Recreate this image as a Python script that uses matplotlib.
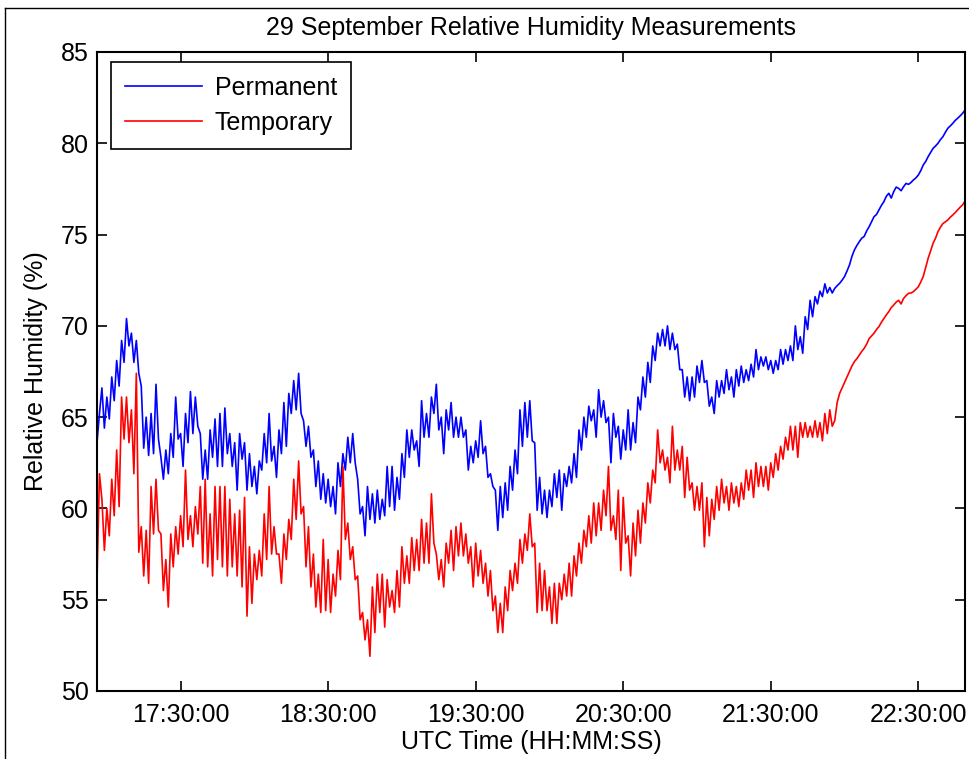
import numpy as np
import pandas as pd
import matplotlib
matplotlib.use("Agg")
import matplotlib.pyplot as plt
import matplotlib.dates as mdates
from matplotlib.lines import Line2D

# readings every minute starting 16:56 UTC, 29 September
start_time = "2015-09-29 16:56:00"

perm_rh = [
  # 16:56 - 17:55
  63.6, 65.2, 66.6, 64.4, 66.1, 64.9, 67.2, 65.9, 68.1, 66.7,
  69.2, 68.0, 70.4, 68.9, 69.6, 68.0, 69.2, 67.4, 66.7, 63.3,
  65.0, 62.9, 65.2, 63.0, 66.8, 63.8, 62.8, 61.6, 63.2, 61.9,
  64.1, 62.8, 66.1, 63.8, 64.1, 62.3, 65.2, 63.6, 66.4, 64.1,
  66.1, 64.5, 64.1, 61.6, 63.2, 61.6, 64.3, 62.8, 64.9, 62.3,
  65.2, 62.3, 65.5, 63.0, 64.1, 62.3, 63.6, 61.0, 64.1, 62.7,
  # 17:56 - 18:55
  63.6, 61.0, 63.0, 61.2, 62.3, 60.8, 62.6, 62.1, 64.1, 62.5,
  65.2, 62.6, 63.4, 61.7, 64.3, 63.0, 65.8, 63.4, 66.3, 65.2,
  67.0, 65.4, 67.4, 65.2, 64.8, 63.4, 64.5, 62.8, 63.2, 61.2,
  62.6, 60.5, 61.9, 60.3, 61.6, 60.1, 61.2, 59.7, 62.5, 61.2,
  63.0, 62.1, 63.9, 62.5, 64.1, 62.5, 61.6, 59.7, 60.1, 58.5,
  61.2, 59.4, 60.8, 59.2, 61.0, 59.4, 60.5, 59.6, 62.3, 60.1,
  # 18:56 - 19:55
  62.3, 59.9, 61.7, 60.5, 63.0, 61.7, 64.3, 62.8, 64.3, 63.2,
  63.7, 62.3, 65.9, 63.9, 65.2, 63.9, 66.1, 65.2, 66.8, 64.3,
  65.0, 63.0, 65.4, 64.3, 65.8, 63.9, 65.0, 63.9, 65.0, 63.9,
  64.3, 62.1, 63.4, 62.5, 63.7, 62.8, 64.8, 63.0, 63.4, 61.7,
  61.9, 61.2, 61.0, 58.8, 61.2, 59.5, 61.4, 59.9, 62.3, 61.0,
  63.2, 61.9, 65.4, 63.4, 65.8, 63.9, 65.9, 63.7, 63.6, 59.9,
  # 19:56 - 20:55
  61.7, 59.7, 61.0, 59.5, 61.0, 60.1, 61.9, 60.6, 62.1, 59.9,
  61.9, 61.2, 62.3, 61.4, 63.0, 61.7, 64.3, 63.2, 65.0, 63.9,
  65.6, 64.8, 65.4, 63.9, 66.5, 65.0, 65.9, 64.7, 65.0, 62.5,
  65.2, 63.9, 64.5, 62.7, 64.3, 63.2, 65.4, 63.2, 64.7, 63.6,
  66.1, 65.4, 67.2, 66.1, 68.0, 66.9, 68.9, 68.1, 69.6, 68.9,
  69.8, 68.9, 70.0, 68.7, 69.6, 68.7, 69.0, 67.6, 67.6, 66.1,
  # 20:56 - 21:55
  67.2, 65.9, 67.2, 66.1, 67.8, 66.9, 68.1, 66.9, 67.0, 65.6,
  66.1, 65.2, 67.0, 66.1, 67.0, 66.3, 67.6, 66.5, 67.2, 66.1,
  67.6, 66.7, 67.8, 66.9, 67.6, 67.0, 67.9, 67.2, 68.7, 67.6,
  68.3, 67.8, 68.3, 67.6, 68.1, 67.4, 68.1, 67.6, 68.7, 67.9,
  68.7, 68.1, 68.9, 68.1, 70.0, 68.7, 69.4, 68.5, 70.5, 69.8,
  71.4, 70.5, 71.6, 71.2, 71.9, 71.6, 72.3, 71.8, 72.1, 71.8,
  # 21:56 - 22:49
  72.05, 72.2, 72.33, 72.5, 72.7, 73.0, 73.33, 73.8, 74.15, 74.4,
  74.61, 74.8, 74.9, 75.2, 75.43, 75.7, 75.98, 76.1, 76.35, 76.6,
  76.8, 77.1, 77.26, 77.0, 77.35, 77.6, 77.53, 77.4, 77.62, 77.8,
  77.75, 77.85, 77.99, 78.1, 78.26, 78.5, 78.81, 79.0, 79.27, 79.5,
  79.72, 79.85, 80.0, 80.2, 80.36, 80.6, 80.82, 80.95, 81.09, 81.25,
  81.37, 81.5, 81.64, 81.82,
]

temp_rh = [
  # 16:56 - 17:55
  56.0, 61.9, 60.5, 57.7, 60.0, 58.5, 61.6, 59.6, 63.2, 60.1,
  66.1, 63.8, 66.1, 63.6, 65.4, 61.9, 67.4, 57.6, 59.0, 56.3,
  58.8, 55.9, 61.2, 58.6, 61.6, 58.8, 58.6, 55.5, 57.2, 54.6,
  58.6, 56.8, 59.0, 57.5, 59.6, 57.9, 62.1, 58.3, 59.6, 57.9,
  60.1, 58.6, 61.2, 57.0, 61.6, 56.8, 59.7, 56.3, 61.2, 57.2,
  61.2, 56.8, 61.2, 56.3, 60.5, 56.8, 59.7, 56.3, 59.9, 55.7,
  # 17:56 - 18:55
  60.6, 54.1, 57.9, 54.8, 57.5, 56.1, 57.7, 56.3, 59.7, 57.2,
  61.2, 57.5, 59.0, 57.5, 57.5, 55.9, 58.6, 57.2, 59.4, 58.3,
  61.6, 59.4, 62.6, 59.7, 60.1, 56.8, 59.0, 55.7, 57.5, 54.6,
  56.4, 54.3, 58.3, 54.4, 57.2, 54.3, 56.4, 55.2, 57.7, 56.1,
  62.3, 58.3, 59.2, 57.2, 57.9, 56.1, 56.3, 53.9, 54.3, 52.8,
  53.9, 51.9, 55.7, 53.2, 56.4, 54.3, 56.4, 53.5, 56.1, 54.6,
  # 18:56 - 19:55
  55.5, 54.3, 56.6, 54.6, 57.9, 55.9, 57.4, 55.9, 58.4, 56.6,
  58.3, 56.6, 59.4, 57.0, 59.2, 57.0, 60.8, 58.1, 57.5, 56.1,
  57.2, 55.7, 58.1, 57.0, 58.8, 56.6, 59.0, 57.4, 59.2, 57.4,
  58.6, 57.0, 57.9, 55.7, 58.1, 56.3, 57.7, 55.9, 57.0, 55.2,
  56.6, 54.4, 55.2, 53.2, 54.8, 53.2, 55.7, 54.4, 56.6, 55.5,
  57.0, 55.9, 58.3, 57.0, 58.6, 57.7, 59.7, 57.9, 58.1, 54.3,
  # 19:56 - 20:55
  57.0, 54.4, 56.6, 54.4, 55.7, 53.7, 55.9, 53.7, 55.9, 55.0,
  56.4, 55.2, 57.0, 55.2, 57.4, 56.3, 58.1, 57.0, 58.8, 57.9,
  59.6, 58.1, 60.3, 58.5, 60.3, 58.8, 61.0, 59.6, 62.3, 58.8,
  59.6, 58.3, 61.0, 56.6, 60.6, 58.1, 58.5, 56.3, 59.2, 57.4,
  59.9, 58.1, 60.3, 59.2, 61.4, 60.3, 62.1, 61.4, 64.3, 62.5,
  63.2, 62.1, 62.8, 61.4, 64.5, 62.1, 63.2, 62.1, 63.4, 60.6,
  # 20:56 - 21:55
  62.8, 61.0, 61.4, 59.9, 61.2, 59.9, 61.4, 57.9, 60.6, 58.5,
  60.5, 59.4, 61.2, 59.9, 61.6, 60.3, 61.2, 59.9, 61.4, 60.3,
  61.2, 60.1, 61.4, 60.5, 62.1, 61.0, 62.1, 60.6, 62.5, 61.2,
  62.3, 61.2, 62.3, 61.0, 62.5, 61.7, 63.0, 62.1, 63.4, 62.7,
  63.9, 63.2, 64.5, 63.2, 64.5, 62.8, 64.7, 63.9, 64.7, 63.9,
  64.5, 63.9, 64.8, 63.9, 64.7, 63.7, 65.2, 64.1, 65.4, 64.5,
  # 21:56 - 22:49
  64.8, 65.8, 66.3, 66.6, 66.9, 67.2, 67.5, 67.8, 68.04, 68.2,
  68.4, 68.6, 68.77, 69.0, 69.3, 69.45, 69.6, 69.8, 69.96, 70.2,
  70.4, 70.6, 70.78, 71.0, 71.14, 71.3, 71.4, 71.2, 71.5, 71.65,
  71.78, 71.8, 71.87, 72.0, 72.14, 72.4, 72.7, 73.2, 73.7, 74.1,
  74.52, 74.8, 75.16, 75.4, 75.6, 75.7, 75.8, 75.95, 76.07, 76.2,
  76.35, 76.5, 76.62, 76.84,
]

y_ticks = [50, 55, 60, 65, 70, 75, 80, 85]

plt.rcParams['font.family'] = ['Liberation Sans', 'DejaVu Sans']

times = pd.date_range(start_time, periods=len(perm_rh), freq="1min")

fig = plt.figure(figsize=(9.69, 7.59), dpi=100)
ax = fig.add_axes([0.1001, 0.0896, 0.8958, 0.8419])

ax.plot(times, perm_rh, color=(0, 0, 1), lw=1.2, label="Permanent")
ax.plot(times, temp_rh, color=(1, 0, 0), lw=1.2, label="Temporary")

ax.set_xlim(times[0], times[-1])
ax.set_ylim(50, 85)
ax.set_yticks(y_ticks)
ax.xaxis.set_major_locator(mdates.MinuteLocator(byminute=[30]))
ax.xaxis.set_major_formatter(mdates.DateFormatter("%H:%M:%S"))

ax.tick_params(direction="in", length=7, width=1.2, top=True, right=True,
               labelsize=18)
ax.tick_params(axis="x", pad=9)
ax.tick_params(axis="y", pad=6)
for s in ax.spines.values():
  s.set_linewidth(1.5)

ax.set_title("29 September Relative Humidity Measurements", fontsize=18, pad=12)
ax.set_xlabel("UTC Time (HH:MM:SS)", fontsize=18, labelpad=2)
ax.set_ylabel("Relative Humidity (%)", fontsize=18, labelpad=9)

leg = ax.legend(loc="upper left", bbox_to_anchor=(0.016, 0.984), borderaxespad=0,
                fontsize=18, fancybox=False, framealpha=1, edgecolor="black",
                handlelength=3.1, handletextpad=0.5, borderpad=0.55, labelspacing=0.45)
leg.get_frame().set_linewidth(1.2)

# outer figure border, as in the screenshot
fig.add_artist(Line2D([5 / 969, 5 / 969], [0, 1 - 8 / 759], color="black", lw=1))
fig.add_artist(Line2D([5 / 969, 1], [1 - 8 / 759, 1 - 8 / 759], color="black", lw=1))

fig.savefig("out.png", dpi=100)
